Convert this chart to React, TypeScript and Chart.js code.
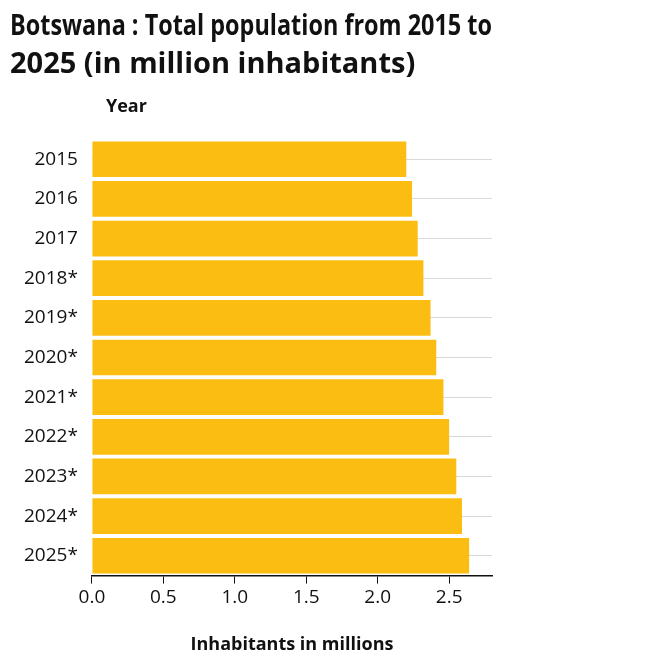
import Chart from 'chart.js/auto'
import React, { useEffect, useRef } from 'react'

const years = ['2015', '2016', '2017', '2018*', '2019*', '2020*', '2021*', '2022*', '2023*', '2024*', '2025*']
const population = [2.2, 2.24, 2.28, 2.32, 2.37, 2.41, 2.46, 2.5, 2.55, 2.59, 2.64]
const xTickLabels = ['0.0', '0.5', '1.0', '1.5', '2.0', '2.5']

const FONT = "'Open Sans', 'DejaVu Sans', sans-serif"

// draws the "Year" label above the category axis
const yearLabel = {
  id: 'yearLabel',
  afterDraw(chart: Chart) {
    const { ctx, chartArea } = chart
    ctx.save()
    ctx.font = `bold 18px ${FONT}`
    ctx.fillStyle = '#111'
    ctx.textBaseline = 'middle'
    ctx.fillText('Year', chartArea.left + 14, 107)
    ctx.restore()
  },
}

const App: React.FC = () => {
  const canvasRef = useRef<HTMLCanvasElement>(null)

  useEffect(() => {
    if (!canvasRef.current) return
    const chart = new Chart(canvasRef.current, {
      type: 'bar',
      data: {
        labels: years,
        datasets: [
          {
            data: population,
            backgroundColor: '#fcbd13',
            barPercentage: 0.9,
            categoryPercentage: 1,
          },
        ],
      },
      options: {
        indexAxis: 'y',
        animation: false,
        responsive: true,
        maintainAspectRatio: false,
        layout: { padding: { left: 10, right: 180, top: 0, bottom: 8 } },
        plugins: {
          legend: { display: false },
          tooltip: { enabled: false },
          title: {
            display: true,
            text: ['Botswana : Total population from 2015 to', '2025 (in million inhabitants)'],
            align: 'start',
            color: '#111',
            font: { family: FONT, size: 29, weight: 'bold', lineHeight: 1.3 },
            padding: { top: 8, bottom: 56 },
          },
        },
        scales: {
          x: {
            min: 0,
            max: 2.8,
            afterBuildTicks: (axis) => {
              axis.ticks = xTickLabels.map((t) => ({ value: Number(t) }))
            },
            ticks: {
              color: '#111',
              font: { family: FONT, size: 19 },
              callback: (_v, i) => xTickLabels[i] ?? '',
            },
            grid: { drawOnChartArea: false, drawTicks: true, tickLength: 8, color: '#111' },
            border: { color: '#111', width: 1.5 },
            title: {
              display: true,
              text: 'Inhabitants in millions',
              color: '#111',
              font: { family: FONT, size: 18, weight: 'bold' },
              padding: { top: 22 },
            },
          },
          y: {
            ticks: { color: '#111', font: { family: FONT, size: 19 }, padding: 14 },
            grid: { color: '#d9d9d9', drawTicks: false, offset: false },
            border: { display: false },
          },
        },
      },
      plugins: [yearLabel],
    })
    return () => chart.destroy()
  }, [])

  return (
    <div style={{ position: 'fixed', left: 0, top: 0, width: 672, height: 668, background: '#fff' }}>
      <canvas ref={canvasRef} />
    </div>
  )
}

export default App
